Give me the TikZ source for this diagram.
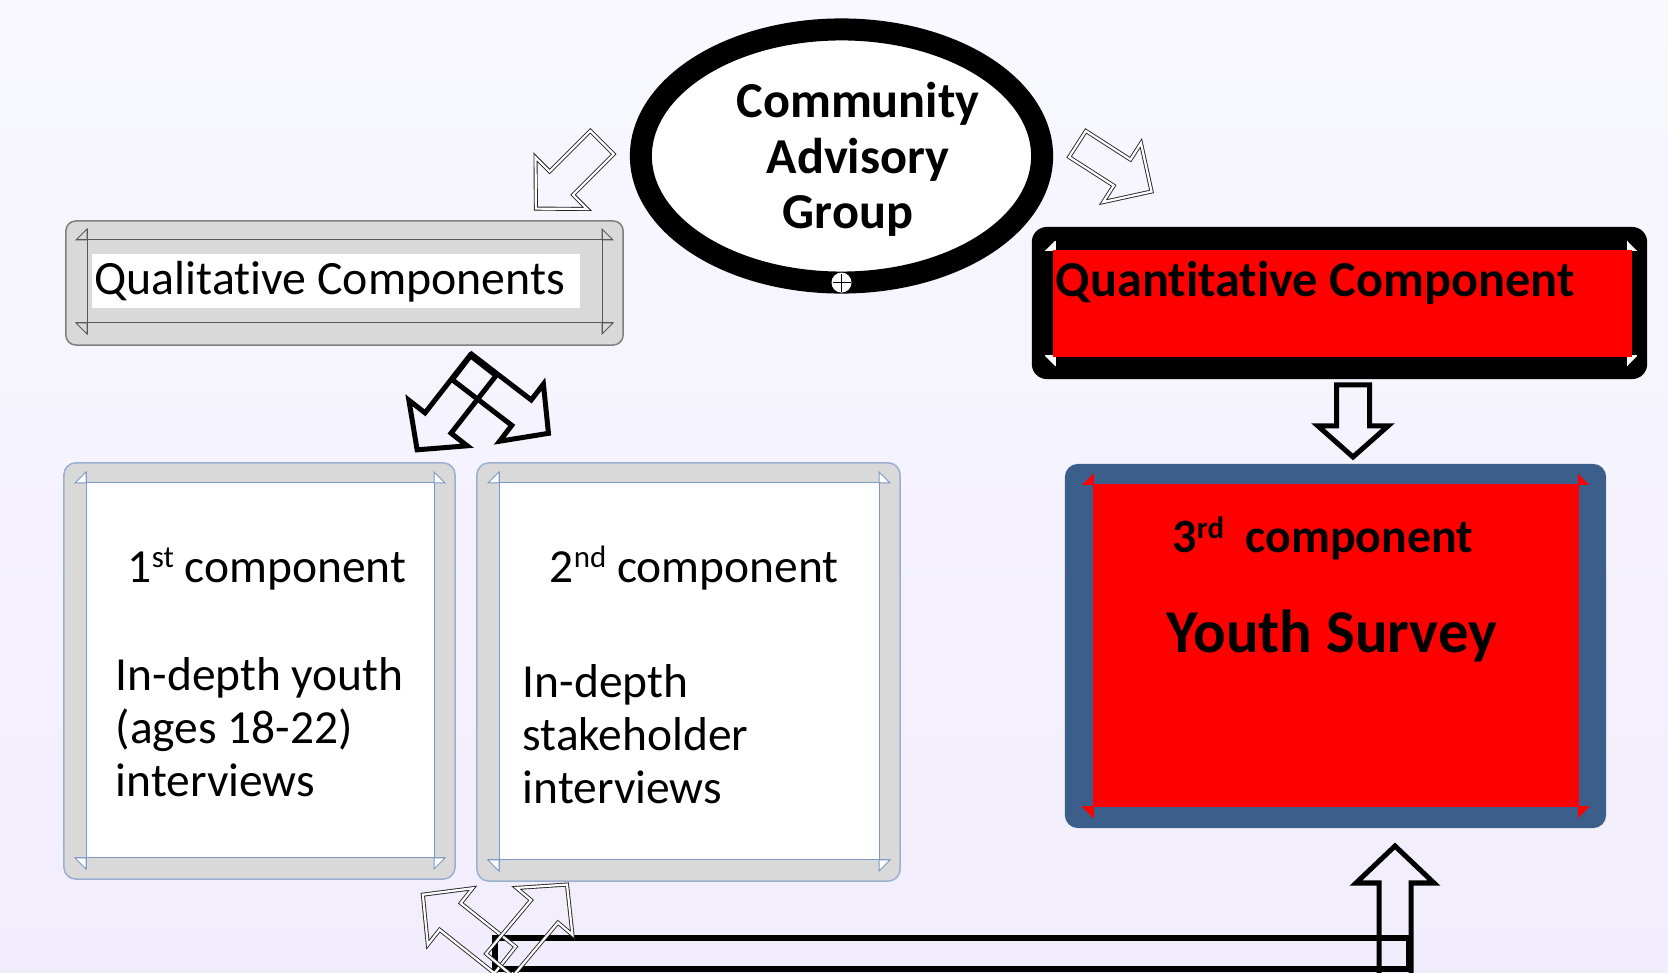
\documentclass[tikz,border=0pt]{standalone}
\usepackage{fontspec}
\setmainfont{Carlito}[Ligatures=NoCommon]
\usetikzlibrary{shapes.geometric}

\definecolor{bgtop}{HTML}{F8F8FE}
\definecolor{bgbot}{HTML}{F2EDFC}
\definecolor{boxgray}{HTML}{D9D9D9}
\definecolor{qualedge}{HTML}{7F7F7F}
\definecolor{qualframe}{HTML}{595959}
\definecolor{compedge}{HTML}{9BAFD0}
\definecolor{compframe}{HTML}{7D98C4}
\definecolor{surveyblue}{HTML}{3B5E8B}

% block arrow: #1 style, #2 tail centre, #3 angle, #4 length, #5 shaft width, #6 head width, #7 head length
\newcommand{\blockarrow}[7]{%
  \path[#1, shift={#2}, rotate=#3]
    (0,{-#5/2}) -- ({#4-#7},{-#5/2}) -- ({#4-#7},{-#6/2}) -- (#4,0)
    -- ({#4-#7},{#6/2}) -- ({#4-#7},{#5/2}) -- (0,{#5/2}) -- cycle;}

% corner frame: #1 line style, #2 corner style, #3 left, #4 right, #5 top, #6 bottom, #7 size
\newcommand{\cornerframe}[7]{%
  \draw[#1] ({#3-#7},#5) -- ({#4+#7},#5);
  \draw[#1] ({#3-#7},#6) -- ({#4+#7},#6);
  \draw[#1] (#3,{#5-#7}) -- (#3,{#6+#7});
  \draw[#1] (#4,{#5-#7}) -- (#4,{#6+#7});
  \path[#2] ({#3-#7},#5) -- (#3,{#5-#7}) -- (#3,#5) -- cycle;
  \path[#2] ({#4+#7},#5) -- (#4,{#5-#7}) -- (#4,#5) -- cycle;
  \path[#2] ({#3-#7},#6) -- (#3,{#6+#7}) -- (#3,#6) -- cycle;
  \path[#2] ({#4+#7},#6) -- (#4,{#6+#7}) -- (#4,#6) -- cycle;}

\begin{document}
\begin{tikzpicture}[x=0.01cm, y=-0.01cm,
  thickarrow/.style={draw=black, line width=0.05cm, line join=miter},
  ghostarrow/.style={draw=black!85, line width=0.009cm, double=white,
    double distance=0.022cm, line join=miter},
  qualbox/.style={draw=qualedge, fill=boxgray, line width=0.015cm,
    rounded corners=0.1cm, inner sep=0},
  compbox/.style={draw=compedge, fill=boxgray, line width=0.015cm,
    rounded corners=0.12cm, inner sep=0},
  quantbox/.style={fill=black, rounded corners=0.15cm, inner sep=0},
  surveybox/.style={fill=surveyblue, rounded corners=0.13cm, inner sep=0},
  txt/.style={inner sep=0, anchor=base west}]

% page background
\fill[top color=bgtop, bottom color=bgbot] (0,0) rectangle (1668,973);
\useasboundingbox (0,0) rectangle (1668,973);

% ---------- Community Advisory Group ----------
\node[ellipse, draw=black, fill=white, line width=0.22cm,
  minimum width=4.01cm, minimum height=2.53cm, inner sep=0] (cag) at (841.5,156) {};
% multi-line node: its base anchor sits on the last line
\node[inner sep=0, anchor=base, align=center,
  font=\fontsize{14.3}{15.9}\bfseries\selectfont] (cagtext) at (858,229)
  {Community\\Advisory\\Group\hspace*{0.2cm}};
\fill[white] (cag.south) ++(0,-11) circle[radius=10] coordinate (knob);
\draw[black, line width=0.012cm] (knob) ++(0,-9) -- ++(0,18);
\draw[black, line width=0.012cm] (knob) ++(-9,0) -- ++(18,0);

% ---------- Qualitative Components ----------
\node[qualbox, minimum width=5.57cm, minimum height=1.24cm] (qual) at (344.5,283) {};
\fill[white] (92,254) rectangle (580,308);
\cornerframe{draw=qualframe, line width=0.01cm}{draw=qualframe, line width=0.01cm}{87}{602}{240}{323}{11}
\node[txt, font=\fontsize{13.6}{16}\selectfont] (qualtext) at (94,295) {Qualitative Components};

% ---------- Quantitative Component ----------
\node[quantbox, minimum width=6.15cm, minimum height=1.52cm] (quant) at (1339.5,303) {};
\cornerframe{draw=white, line width=0.01cm}{fill=white}{1055}{1627}{251}{356}{10}
\fill[red] (1053,250) rectangle (1632,357);
\node[txt, font=\fontsize{14.3}{16}\bfseries\selectfont] (quanttext) at (1055,297)
  {Quantitative Component};

% ---------- 1st component ----------
\node[compbox, minimum width=3.91cm, minimum height=4.16cm] (comp1) at (259.5,671) {};
\fill[white] (86,483) rectangle (434,858);
\cornerframe{draw=compframe, line width=0.01cm}{draw=compframe, fill=white, line width=0.01cm}{86}{434}{483}{858}{11}
\node[txt, font=\fontsize{13.5}{15.2}\selectfont] (comp1title) at (127,583)
  {1\raisebox{0.32em}{\fontsize{8.8}{9}\selectfont st} component};
\node[txt, align=left, font=\fontsize{13.5}{15.2}\selectfont] (comp1body) at (115,797)
  {In-depth youth\\(ages 18-22)\\interviews};

% ---------- 2nd component ----------
\node[compbox, minimum width=4.23cm, minimum height=4.18cm] (comp2) at (688.5,672) {};
\fill[white] (499,483) rectangle (879,860);
\cornerframe{draw=compframe, line width=0.01cm}{draw=compframe, fill=white, line width=0.01cm}{499}{879}{483}{860}{11}
\node[txt, font=\fontsize{13.5}{15.2}\selectfont] (comp2title) at (549,583)
  {2\raisebox{0.32em}{\fontsize{8.8}{9}\selectfont nd} component};
\node[txt, align=left, font=\fontsize{13.5}{15.2}\selectfont] (comp2body) at (522,804)
  {In-depth\\stakeholder\\interviews};

% ---------- 3rd component ----------
\node[surveybox, minimum width=5.41cm, minimum height=3.64cm] (survey) at (1335.5,646) {};
\fill[red] (1093,485) rectangle (1578,807);
\cornerframe{draw=red, line width=0.01cm}{fill=red}{1093}{1578}{485}{807}{11}
\node[txt, font=\fontsize{13.6}{16}\bfseries\selectfont] (surveytitle) at (1172,553)
  {3\raisebox{0.3em}{\fontsize{8.8}{9}\selectfont rd}\ \ component};
\node[txt, font=\fontsize{17.3}{20}\bfseries\selectfont] (surveyname) at (1166,653)
  {Youth Survey};

% ---------- arrows ----------
% from the advisory group to both branches
\blockarrow{ghostarrow}{(602,142.5)}{-135}{93.5}{33}{73}{36}
\blockarrow{ghostarrow}{(1077.5,144)}{-32.7}{88}{31}{70}{35}
% qualitative branch splitting into two components
\blockarrow{thickarrow}{(483,365.5)}{-128}{107}{33}{74}{34}
\blockarrow{thickarrow}{(462,367)}{-37.5}{109}{32}{72}{34}
% quantitative branch down to the survey
\blockarrow{thickarrow}{(1353,385)}{-90}{72}{33}{70}{31}
% bottom link back up to the survey
\draw[line width=0.05cm] (495,938) rectangle (1408,969);
\blockarrow{thickarrow}{(1395,990)}{90}{144}{32}{78}{37}
\blockarrow{ghostarrow}{(505,960)}{141.5}{105}{34}{72}{35}
\blockarrow{ghostarrow}{(499.5,965)}{50}{105}{35}{73}{35}

\end{tikzpicture}
\end{document}
